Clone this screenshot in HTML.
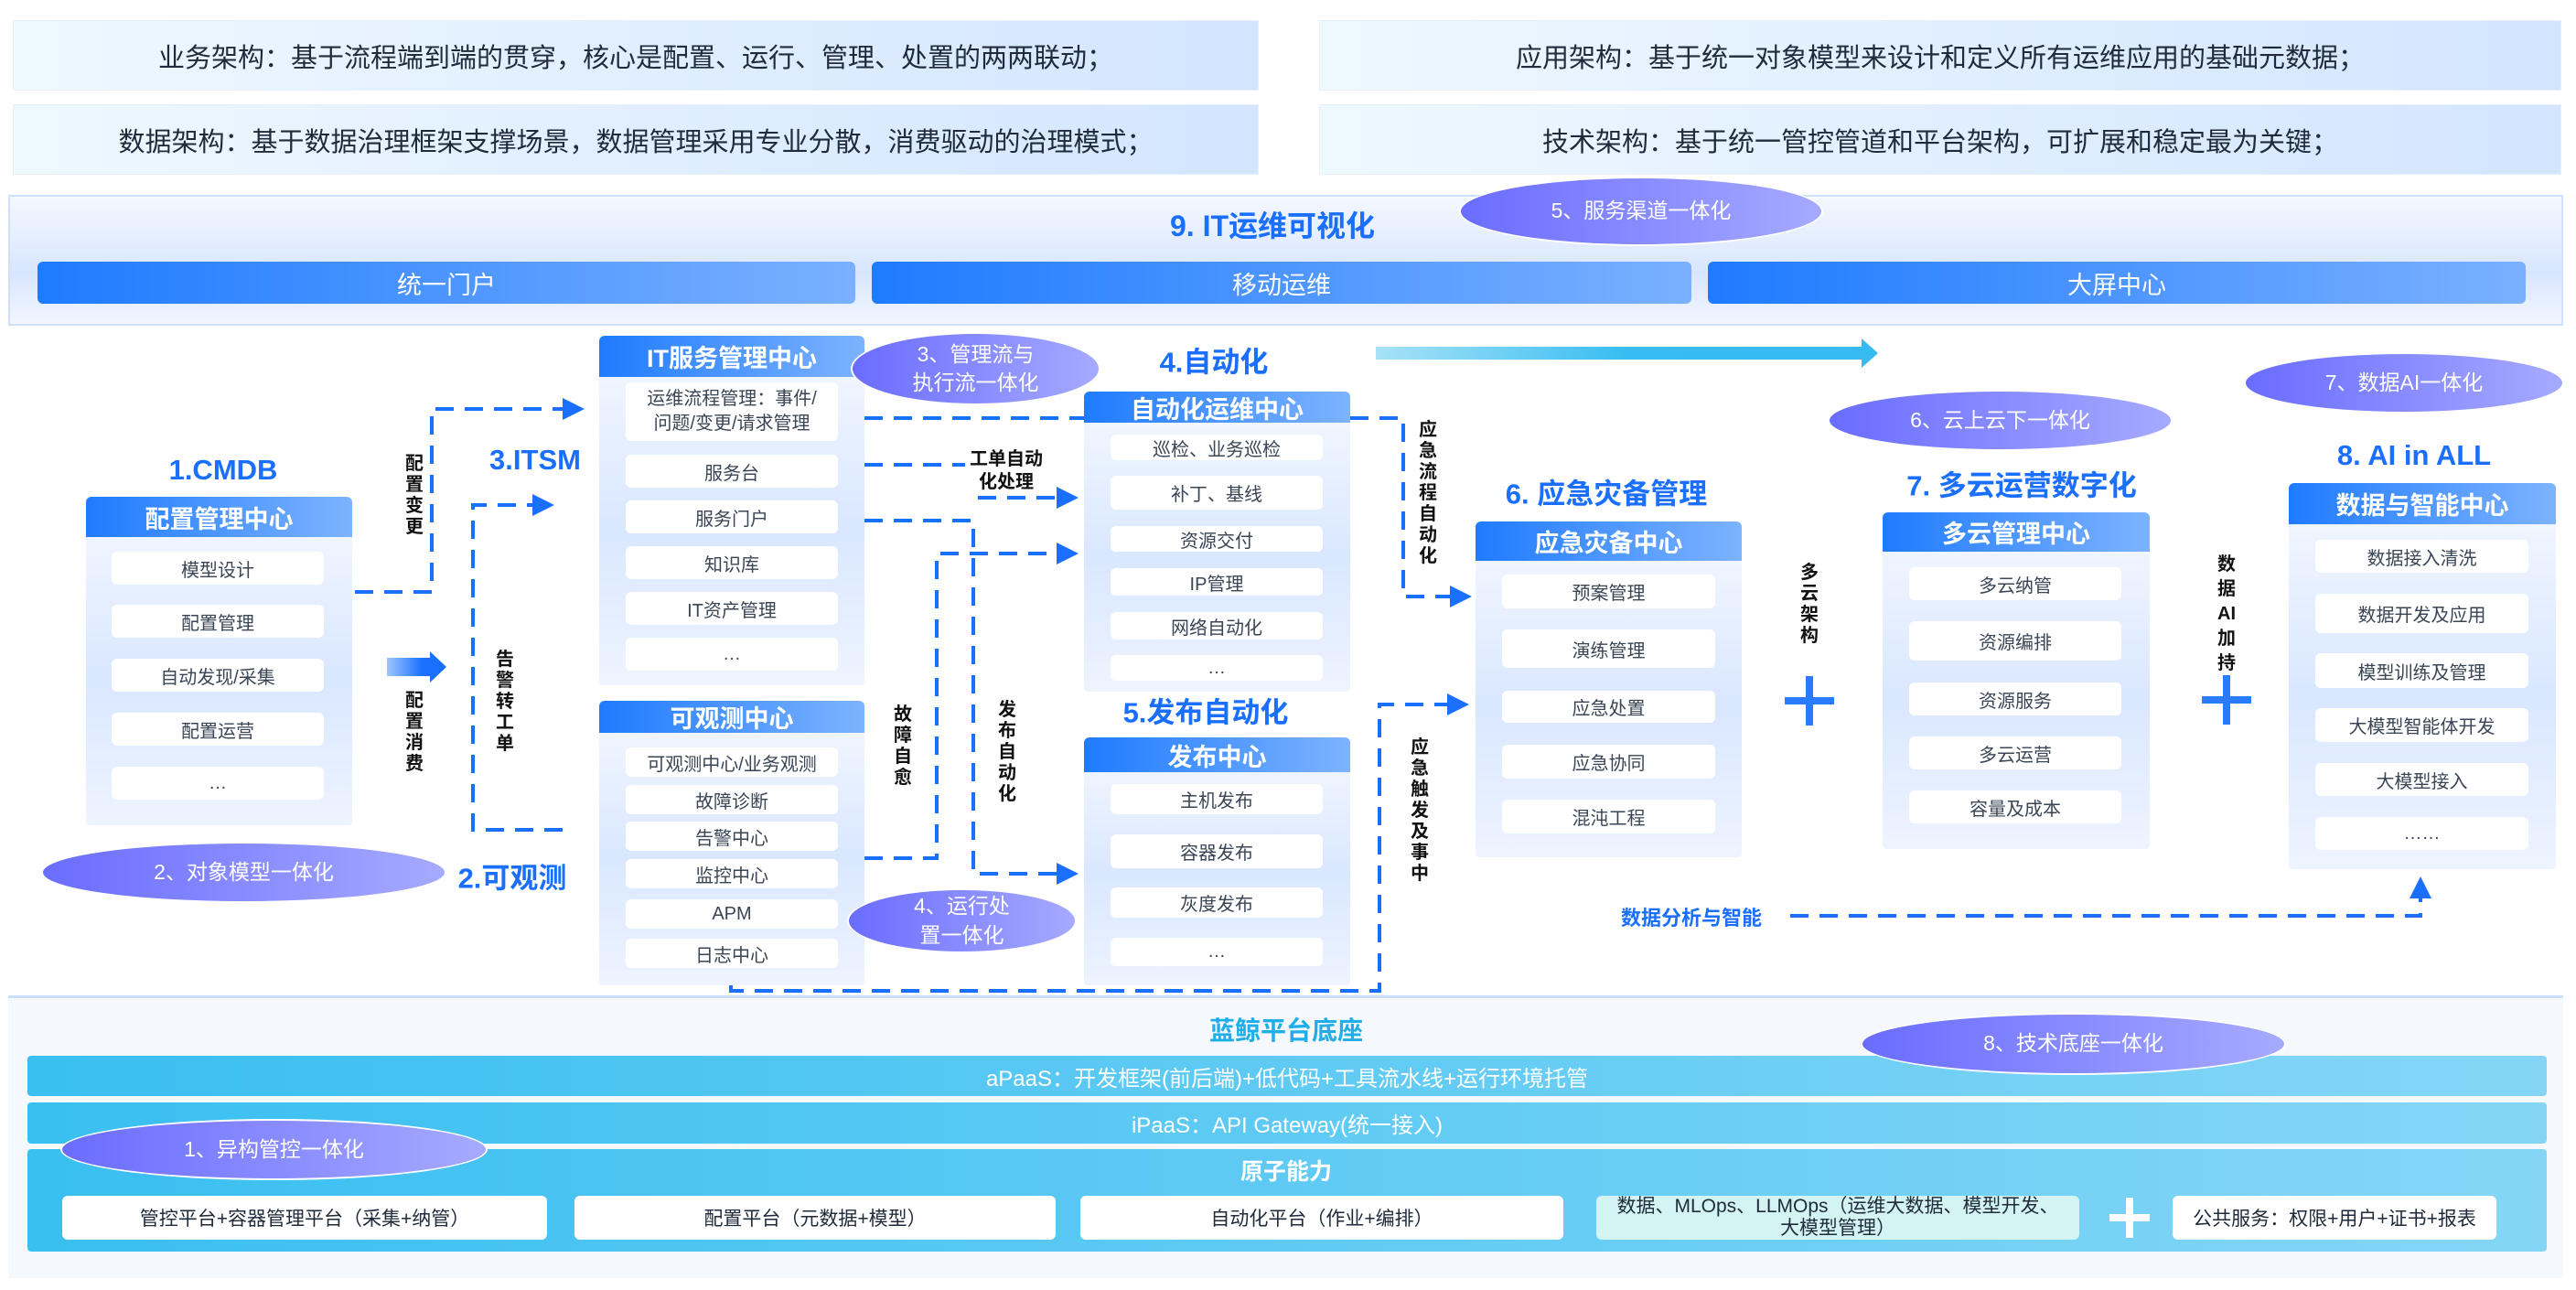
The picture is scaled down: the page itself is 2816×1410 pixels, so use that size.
<!DOCTYPE html>
<html><head><meta charset="utf-8">
<style>
*{margin:0;padding:0;box-sizing:border-box}
body{width:2816px;height:1410px;position:relative;background:#fff;font-family:"Liberation Sans","Noto Sans CJK SC",sans-serif;overflow:hidden}
.a{position:absolute}
.c{display:flex;align-items:center;justify-content:center;text-align:center}
.top{background:linear-gradient(90deg,#eef8ff,#d3e5ff);color:#1f2a3a;font-size:29px;border:1px solid #e6f0fb}
.bar{background:linear-gradient(90deg,#1f7bff,#7ab0ff);color:#fff;font-size:27px;border-radius:6px}
.ell{border-radius:50%;background:linear-gradient(90deg,#6a6cff,#a6aaff);color:#fff;font-size:23px;border:2px solid #fff;line-height:1.35}
.box{background:linear-gradient(180deg,#f6f9ff,#d9e7ff 55%,#eef4ff);border-radius:4px}
.hd{background:linear-gradient(90deg,#1f7bff,#7db3ff);color:#fff;font-size:27px;font-weight:bold;border-radius:6px 6px 0 0}
.it{background:#fff;border-radius:6px;color:#3a4556;font-size:20px}
.h{color:#1a6fff;font-size:31px;font-weight:bold;white-space:nowrap;transform:translate(-50%,-50%)}
.v{font-size:20px;font-weight:bold;color:#111;line-height:23px;text-align:center;width:26px}
.pl{background:#2a7bff}
.bi{font-size:21px}
</style></head><body>

<div class="a c top" style="left:14px;top:22px;width:1362px;height:77px">业务架构：基于流程端到端的贯穿，核心是配置、运行、管理、处置的两两联动；</div>
<div class="a c top" style="left:1442px;top:22px;width:1358px;height:77px">应用架构：基于统一对象模型来设计和定义所有运维应用的基础元数据；</div>
<div class="a c top" style="left:14px;top:114px;width:1362px;height:77px">数据架构：基于数据治理框架支撑场景，数据管理采用专业分散，消费驱动的治理模式；</div>
<div class="a c top" style="left:1442px;top:114px;width:1358px;height:77px">技术架构：基于统一管控管道和平台架构，可扩展和稳定最为关键；</div>

<div class="a" style="left:9px;top:213px;width:2793px;height:143px;background:linear-gradient(180deg,#f4f8ff,#d8e6ff 60%,#f2f6ff);border:2px solid #cfe0fb"></div>
<div class="a h" style="left:1391px;top:245px;font-size:32px">9. IT运维可视化</div>
<div class="a c bar" style="left:41px;top:286px;width:894px;height:46px">统一门户</div>
<div class="a c bar" style="left:953px;top:286px;width:896px;height:46px">移动运维</div>
<div class="a c bar" style="left:1867px;top:286px;width:894px;height:46px">大屏中心</div>
<div class="a c ell" style="left:1595px;top:193px;width:398px;height:76px">5、服务渠道一体化</div>

<svg class="a" style="left:1500px;top:365px" width="560" height="45">
<defs><linearGradient id="cy" x1="0" x2="1"><stop offset="0" stop-color="#a8e2f7"/><stop offset="0.5" stop-color="#38bdf2"/><stop offset="1" stop-color="#35bbf2"/></linearGradient></defs>
<polygon points="4,14 535,14 535,5 553,21 535,37 535,28 4,28" fill="url(#cy)"/></svg>

<div class="a h" style="left:244px;top:514px">1.CMDB</div>
<div class="a h" style="left:585px;top:503px">3.ITSM</div>
<div class="a h" style="left:560px;top:957px">2.可观测</div>
<div class="a h" style="left:1327px;top:393px">4.自动化</div>
<div class="a h" style="left:1318px;top:776px">5.发布自动化</div>
<div class="a h" style="left:1756px;top:537px">6. 应急灾备管理</div>
<div class="a h" style="left:2210px;top:528px">7. 多云运营数字化</div>
<div class="a h" style="left:2639px;top:498px">8. AI in ALL</div>

<div class="a box" style="left:94px;top:543px;width:291px;height:359px"></div>
<div class="a c hd" style="left:94px;top:543px;width:291px;height:44px">配置管理中心</div>
<div class="a c it" style="left:122px;top:603px;width:232px;height:36px">模型设计</div>
<div class="a c it" style="left:122px;top:661px;width:232px;height:36px">配置管理</div>
<div class="a c it" style="left:122px;top:720px;width:232px;height:36px">自动发现/采集</div>
<div class="a c it" style="left:122px;top:779px;width:232px;height:36px">配置运营</div>
<div class="a c it" style="left:122px;top:838px;width:232px;height:36px">…</div>

<div class="a box" style="left:655px;top:367px;width:290px;height:382px"></div>
<div class="a c hd" style="left:655px;top:367px;width:290px;height:45px">IT服务管理中心</div>
<div class="a c it" style="left:684px;top:418px;width:232px;height:64px;line-height:1.35">运维流程管理：事件/<br>问题/变更/请求管理</div>
<div class="a c it" style="left:684px;top:497px;width:232px;height:36px">服务台</div>
<div class="a c it" style="left:684px;top:547px;width:232px;height:36px">服务门户</div>
<div class="a c it" style="left:684px;top:597px;width:232px;height:36px">知识库</div>
<div class="a c it" style="left:684px;top:647px;width:232px;height:36px">IT资产管理</div>
<div class="a c it" style="left:684px;top:697px;width:232px;height:36px">…</div>

<div class="a box" style="left:655px;top:766px;width:290px;height:311px"></div>
<div class="a c hd" style="left:655px;top:766px;width:290px;height:35px">可观测中心</div>
<div class="a c it" style="left:684px;top:817px;width:232px;height:32px">可观测中心/业务观测</div>
<div class="a c it" style="left:684px;top:858px;width:232px;height:32px">故障诊断</div>
<div class="a c it" style="left:684px;top:898px;width:232px;height:32px">告警中心</div>
<div class="a c it" style="left:684px;top:939px;width:232px;height:32px">监控中心</div>
<div class="a c it" style="left:684px;top:983px;width:232px;height:32px">APM</div>
<div class="a c it" style="left:684px;top:1026px;width:232px;height:32px">日志中心</div>

<div class="a box" style="left:1185px;top:428px;width:291px;height:328px"></div>
<div class="a c hd" style="left:1185px;top:428px;width:291px;height:34px">自动化运维中心</div>
<div class="a c it" style="left:1214px;top:475px;width:232px;height:28px">巡检、业务巡检</div>
<div class="a c it" style="left:1214px;top:520px;width:232px;height:37px">补丁、基线</div>
<div class="a c it" style="left:1214px;top:575px;width:232px;height:28px">资源交付</div>
<div class="a c it" style="left:1214px;top:621px;width:232px;height:30px">IP管理</div>
<div class="a c it" style="left:1214px;top:669px;width:232px;height:30px">网络自动化</div>
<div class="a c it" style="left:1214px;top:716px;width:232px;height:28px">…</div>

<div class="a box" style="left:1185px;top:806px;width:291px;height:271px"></div>
<div class="a c hd" style="left:1185px;top:806px;width:291px;height:38px">发布中心</div>
<div class="a c it" style="left:1214px;top:857px;width:232px;height:33px">主机发布</div>
<div class="a c it" style="left:1214px;top:912px;width:232px;height:37px">容器发布</div>
<div class="a c it" style="left:1214px;top:970px;width:232px;height:33px">灰度发布</div>
<div class="a c it" style="left:1214px;top:1025px;width:232px;height:31px">…</div>

<div class="a box" style="left:1613px;top:570px;width:291px;height:367px"></div>
<div class="a c hd" style="left:1613px;top:570px;width:291px;height:43px">应急灾备中心</div>
<div class="a c it" style="left:1642px;top:628px;width:233px;height:37px">预案管理</div>
<div class="a c it" style="left:1642px;top:688px;width:233px;height:42px">演练管理</div>
<div class="a c it" style="left:1642px;top:755px;width:233px;height:35px">应急处置</div>
<div class="a c it" style="left:1642px;top:814px;width:233px;height:37px">应急协同</div>
<div class="a c it" style="left:1642px;top:874px;width:233px;height:37px">混沌工程</div>

<div class="a box" style="left:2058px;top:560px;width:292px;height:368px"></div>
<div class="a c hd" style="left:2058px;top:560px;width:292px;height:43px">多云管理中心</div>
<div class="a c it" style="left:2087px;top:620px;width:232px;height:36px">多云纳管</div>
<div class="a c it" style="left:2087px;top:679px;width:232px;height:43px">资源编排</div>
<div class="a c it" style="left:2087px;top:746px;width:232px;height:36px">资源服务</div>
<div class="a c it" style="left:2087px;top:805px;width:232px;height:36px">多云运营</div>
<div class="a c it" style="left:2087px;top:864px;width:232px;height:36px">容量及成本</div>

<div class="a box" style="left:2502px;top:528px;width:292px;height:422px"></div>
<div class="a c hd" style="left:2502px;top:528px;width:292px;height:45px">数据与智能中心</div>
<div class="a c it" style="left:2531px;top:590px;width:233px;height:36px">数据接入清洗</div>
<div class="a c it" style="left:2531px;top:649px;width:233px;height:43px">数据开发及应用</div>
<div class="a c it" style="left:2531px;top:714px;width:233px;height:38px">模型训练及管理</div>
<div class="a c it" style="left:2531px;top:774px;width:233px;height:37px">大模型智能体开发</div>
<div class="a c it" style="left:2531px;top:834px;width:233px;height:36px">大模型接入</div>
<div class="a c it" style="left:2531px;top:893px;width:233px;height:36px">……</div>

<div class="a pl" style="left:1951px;top:762px;width:54px;height:8px"></div>
<div class="a pl" style="left:1974px;top:739px;width:8px;height:54px"></div>
<div class="a pl" style="left:2407px;top:761px;width:54px;height:8px"></div>
<div class="a pl" style="left:2430px;top:738px;width:8px;height:54px"></div>

<svg class="a" style="left:0;top:0" width="2816" height="1410">
<defs><marker id="ar" markerWidth="6" markerHeight="6" refX="5" refY="3" orient="auto" markerUnits="strokeWidth"><path d="M0,0 L6,3 L0,6 z" fill="#1a6fff"/></marker>
<linearGradient id="ga" x1="0" x2="1"><stop offset="0" stop-color="#9cc6ff"/><stop offset="0.6" stop-color="#1a6fff"/></linearGradient></defs>
<g fill="none" stroke="#1a6fff" stroke-width="4" stroke-dasharray="20 12">
<polyline points="388,647 472,647 472,447 635,447" marker-end="url(#ar)"/>
<polyline points="615,907 517,907 517,552 602,552" marker-end="url(#ar)"/>
<polyline points="945,457 1185,457"/>
<polyline points="1476,457 1534,457 1534,652 1605,652" marker-end="url(#ar)"/>
<polyline points="945,508 1064,508 1064,544 1175,544" marker-end="url(#ar)"/>
<polyline points="945,569 1064,569 1064,955 1175,955" marker-end="url(#ar)"/>
<polyline points="945,938 1024,938 1024,605 1175,605" marker-end="url(#ar)"/>
<polyline points="799,1077 799,1083 1508,1083 1508,770 1602,770" marker-end="url(#ar)"/>
<polyline points="1957,1001 2646,1001 2646,962" marker-end="url(#ar)"/>
</g>
<polygon points="423,719 470,719 470,712 488,729 470,746 470,739 423,739" fill="url(#ga)"/>
</svg>

<div class="a v" style="left:440px;top:496px">配<br>置<br>变<br>更</div>
<div class="a v" style="left:440px;top:755px">配<br>置<br>消<br>费</div>
<div class="a v" style="left:539px;top:710px;background:#fff">告<br>警<br>转<br>工<br>单</div>
<div class="a v" style="left:974px;top:770px">故<br>障<br>自<br>愈</div>
<div class="a v" style="left:1088px;top:765px;background:#fff">发<br>布<br>自<br>动<br>化</div>
<div class="a v" style="left:1548px;top:459px">应<br>急<br>流<br>程<br>自<br>动<br>化</div>
<div class="a v" style="left:1539px;top:806px">应<br>急<br>触<br>发<br>及<br>事<br>中</div>
<div class="a v" style="left:1965px;top:615px">多<br>云<br>架<br>构</div>
<div class="a v" style="left:2421px;top:604px;line-height:27px">数<br>据<br>AI<br>加<br>持</div>
<div class="a" style="left:1055px;top:490px;font-size:20px;font-weight:bold;color:#111;line-height:25px;text-align:center;width:90px;background:#fff">工单自动<br>化处理</div>
<div class="a" style="left:1772px;top:986px;font-size:22px;font-weight:bold;color:#1a6fff">数据分析与智能</div>

<div class="a c ell" style="left:930px;top:363px;width:273px;height:80px">3、管理流与<br>执行流一体化</div>
<div class="a c ell" style="left:45px;top:920px;width:443px;height:67px">2、对象模型一体化</div>
<div class="a c ell" style="left:926px;top:971px;width:251px;height:71px">4、运行处<br>置一体化</div>
<div class="a c ell" style="left:1998px;top:426px;width:377px;height:67px">6、云上云下一体化</div>
<div class="a c ell" style="left:2453px;top:385px;width:350px;height:67px">7、数据AI一体化</div>

<div class="a" style="left:9px;top:1088px;width:2793px;height:309px;background:#f5f9fd;border-top:3px solid #c9dffb"></div>
<div class="a" style="left:1406px;top:1125px;transform:translate(-50%,-50%);font-size:28px;font-weight:bold;color:#20aee8">蓝鲸平台底座</div>
<div class="a c" style="left:30px;top:1154px;width:2754px;height:44px;background:linear-gradient(90deg,#39bff1,#85d6f6);color:#fff;font-size:24px;border-radius:4px">aPaaS：开发框架(前后端)+低代码+工具流水线+运行环境托管</div>
<div class="a c" style="left:30px;top:1205px;width:2754px;height:45px;background:linear-gradient(90deg,#39bff1,#85d6f6);color:#fff;font-size:24px;border-radius:4px">iPaaS：API Gateway(统一接入)</div>
<div class="a" style="left:30px;top:1256px;width:2754px;height:112px;background:linear-gradient(90deg,#39bff1,#85d6f6);border-radius:4px"></div>
<div class="a" style="left:1406px;top:1279px;transform:translate(-50%,-50%);font-size:25px;font-weight:bold;color:#fff">原子能力</div>
<div class="a c it bi" style="left:68px;top:1307px;width:530px;height:48px;color:#1f2a3a">管控平台+容器管理平台（采集+纳管）</div>
<div class="a c it bi" style="left:628px;top:1307px;width:526px;height:48px;color:#1f2a3a">配置平台（元数据+模型）</div>
<div class="a c it bi" style="left:1181px;top:1307px;width:528px;height:48px;color:#1f2a3a">自动化平台（作业+编排）</div>
<div class="a c it bi" style="left:1745px;top:1307px;width:528px;height:48px;background:#d3f4f2;color:#1f2a3a;line-height:1.15">数据、MLOps、LLMOps（运维大数据、模型开发、<br>大模型管理）</div>
<div class="a" style="left:2306px;top:1327px;width:44px;height:8px;background:#fff"></div>
<div class="a" style="left:2324px;top:1309px;width:8px;height:44px;background:#fff"></div>
<div class="a c it bi" style="left:2375px;top:1307px;width:354px;height:48px;color:#1f2a3a">公共服务：权限+用户+证书+报表</div>
<div class="a c ell" style="left:2034px;top:1107px;width:465px;height:68px">8、技术底座一体化</div>
<div class="a c ell" style="left:66px;top:1223px;width:467px;height:67px">1、异构管控一体化</div>

</body></html>
